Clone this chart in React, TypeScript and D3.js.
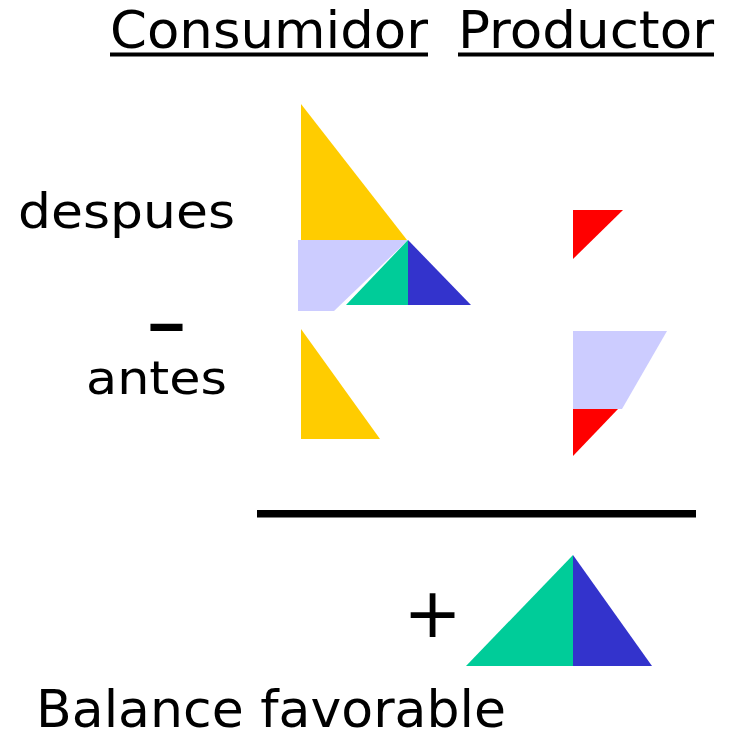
import React from "react";
import * as d3 from "d3";

type Pt = [number, number];
type Shape = { area: string; pts: Pt[] };

// column / row labels
const columns = ["Consumidor", "Productor"];
const rows = ["despues", "antes"];
const resultLabel = "Balance favorable";

// shapes in local units (x right, y up) relative to each panel's anchor
const despuesConsumidor: Shape[] = [
  { area: "excedenteC", pts: [[0, 136], [0, 0], [106, 0]] },
  { area: "transferencia", pts: [[-3, 0], [32, 0], [32, -71], [-3, -71]] },
  { area: "transferencia", pts: [[32, 0], [107, 0], [33, -71], [32, -71]] },
  { area: "gananciaC", pts: [[45, -65], [107, -65], [107, 0]] },
  { area: "gananciaP", pts: [[107, 0], [107, -65], [170, -65]] },
];
const despuesProductor: Shape[] = [
  { area: "excedenteP", pts: [[0, 0], [50, 0], [0, -49]] },
];
const antesConsumidor: Shape[] = [
  { area: "excedenteC", pts: [[0, 110], [0, 0], [79, 0]] },
];
const antesProductor: Shape[] = [
  { area: "transferencia", pts: [[0, 0], [94, 0], [49, -78], [0, -78]] },
  { area: "excedenteP", pts: [[0, -78], [45, -78], [0, -125]] },
];
const balance: Shape[] = [
  { area: "gananciaC", pts: [[-107, 0], [0, 0], [0, 111]] },
  { area: "gananciaP", pts: [[0, 0], [0, 111], [79, 0]] },
];

const colors: Record<string, string> = {
  excedenteC: "#FFCC00",
  excedenteP: "#FF0000",
  transferencia: "#CCCCFF",
  gananciaC: "#00CC99",
  gananciaP: "#3333CC",
};

// where each panel sits on the page
const panels = [
  { shapes: despuesConsumidor, x: 301, y: 240 },
  { shapes: despuesProductor, x: 573, y: 210 },
  { shapes: antesConsumidor, x: 301, y: 439 },
  { shapes: antesProductor, x: 573, y: 331 },
  { shapes: balance, x: 573, y: 666 },
];

const W = 730;
const H = 736;
const font = "DejaVu Sans";

function Panel({ shapes, x, y }: { shapes: Shape[]; x: number; y: number }) {
  const xs = d3.scaleLinear().domain([0, 100]).range([x, x + 100]);
  const ys = d3.scaleLinear().domain([0, 100]).range([y, y - 100]);
  const line = d3.line<Pt>().x((d) => xs(d[0])).y((d) => ys(d[1]));
  return (
    <g>
      {shapes.map((s, i) => (
        <path key={i} d={line(s.pts) + "Z"} fill={colors[s.area]} />
      ))}
    </g>
  );
}

export default function App() {
  const headX = [110, 458];
  const headW = [318, 256];
  return (
    <svg
      width={W}
      height={H}
      style={{ position: "absolute", left: 0, top: 0, background: "#fff" }}
      fontFamily={font}
    >
      <rect width={W} height={H} fill="#fff" />
      {columns.map((c, i) => (
        <g key={c}>
          <text
            x={headX[i]}
            y={48}
            fontSize={52}
            textLength={headW[i]}
            lengthAdjust="spacingAndGlyphs"
          >
            {c}
          </text>
          <rect x={headX[i]} y={52.5} width={headW[i]} height={4} fill="#000" />
        </g>
      ))}

      <text x={18} y={228} fontSize={47.5} textLength={217} lengthAdjust="spacingAndGlyphs">
        {rows[0]}
      </text>
      <text x={144.5} y={352} fontSize={90} textLength={44} lengthAdjust="spacingAndGlyphs">
        -
      </text>
      <text x={86} y={394} fontSize={47} textLength={141} lengthAdjust="spacingAndGlyphs">
        {rows[1]}
      </text>

      {panels.map((p, i) => (
        <Panel key={i} {...p} />
      ))}

      <rect x={257} y={510} width={439} height={7.5} fill="#000" />

      <text x={432.5} y={637} fontSize={70} textAnchor="middle">
        +
      </text>
      <text x={36} y={727} fontSize={52} textLength={470} lengthAdjust="spacingAndGlyphs">
        {resultLabel}
      </text>
    </svg>
  );
}
